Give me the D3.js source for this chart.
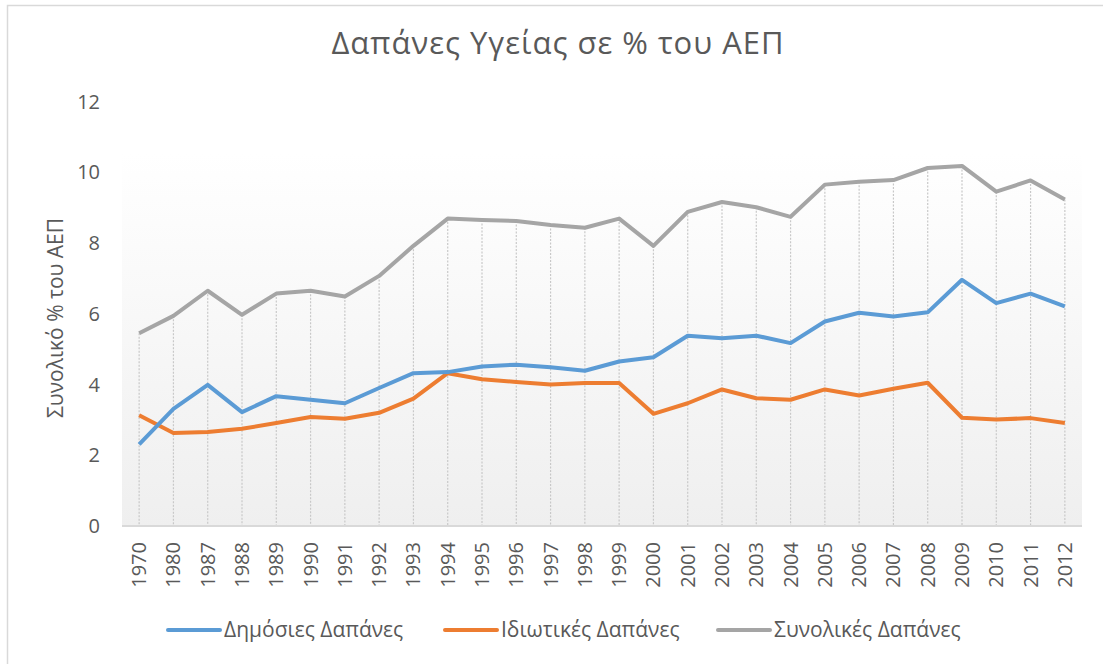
<!DOCTYPE html>
<html>
<head>
<meta charset="utf-8">
<script src="https://cdn.jsdelivr.net/npm/d3@7"></script>
<style>
	body { margin: 0; background: #fff; }
	text { font-family: "Open Sans", sans-serif; fill: #595959; }
</style>
</head>
<body>
<div id="chart"></div>
<script>
(function(){
	var width = 1103,
		height = 664;

	// data
	var years = ["1970","1980","1987","1988","1989","1990","1991","1992","1993","1994","1995","1996","1997","1998","1999","2000","2001","2002","2003","2004","2005","2006","2007","2008","2009","2010","2011","2012"];
	var publicSpend = [2.31,3.31,3.99,3.22,3.67,3.57,3.47,3.90,4.32,4.35,4.51,4.56,4.49,4.39,4.65,4.77,5.38,5.31,5.38,5.17,5.78,6.03,5.92,6.04,6.96,6.30,6.57,6.21];
	var privateSpend = [3.13,2.63,2.66,2.75,2.91,3.08,3.03,3.20,3.60,4.32,4.15,4.07,4.00,4.04,4.04,3.17,3.47,3.86,3.61,3.57,3.86,3.69,3.88,4.05,3.06,3.01,3.05,2.91];
	var totalSpend = [5.45,5.94,6.65,5.97,6.57,6.65,6.49,7.07,7.92,8.69,8.65,8.62,8.51,8.43,8.69,7.92,8.88,9.16,9.01,8.74,9.65,9.73,9.78,10.12,10.18,9.45,9.77,9.23];
	var yTicks = [0,2,4,6,8,10,12];

	var series = [
		{name: "Δημόσιες Δαπάνες", values: publicSpend, color: "#5b9bd5"},
		{name: "Ιδιωτικές Δαπάνες", values: privateSpend, color: "#ed7d31"},
		{name: "Συνολικές Δαπάνες", values: totalSpend, color: "#a5a5a5"}
	];

	var left = 122, right = 1082, top = 101.5, bottom = 526;

	var svg = d3.select("#chart")
		.append("svg")
		.attr("width", width)
		.attr("height", height)

	// chart border
	svg.append("rect")
		.attr("x", 7.5).attr("y", 5.5)
		.attr("width", width + 20).attr("height", height + 20)
		.attr("fill", "none")
		.attr("stroke", "#d9d9d9")
		.attr("stroke-width", 1.5)

	var x = d3.scaleBand().domain(years).range([left, right])
	var y = d3.scaleLinear().domain([0, 12]).range([bottom, top])

	var defs = svg.append("defs")
	var grad = defs.append("linearGradient")
		.attr("id", "bg")
		.attr("x1", 0).attr("y1", 0).attr("x2", 0).attr("y2", 1)
	grad.append("stop").attr("offset", "0%").attr("stop-color", "#ffffff")
	grad.append("stop").attr("offset", "12%").attr("stop-color", "#ffffff")
	grad.append("stop").attr("offset", "100%").attr("stop-color", "#efefef")

	svg.append("rect")
		.attr("x", left).attr("y", y(12))
		.attr("width", right - left).attr("height", bottom - y(12))
		.attr("fill", "url(#bg)")

	function cx(d, i) { return x(years[i]) + x.bandwidth() / 2 }

	// drop lines from the top line down to the axis
	svg.selectAll(".drop")
		.data(totalSpend)
		.enter().append("line")
		.attr("class", "drop")
		.attr("x1", cx).attr("x2", cx)
		.attr("y1", function(d){ return y(d) })
		.attr("y2", bottom)
		.attr("stroke", "#c8c8c8")
		.attr("stroke-width", 1.2)
		.attr("stroke-dasharray", "2,1.5")

	// x axis line
	svg.append("line")
		.attr("x1", left).attr("x2", right)
		.attr("y1", bottom).attr("y2", bottom)
		.attr("stroke", "#d9d9d9")
		.attr("stroke-width", 2)

	// y tick labels
	svg.selectAll(".ytick")
		.data(yTicks)
		.enter().append("text")
		.attr("class", "ytick")
		.attr("x", 100)
		.attr("y", function(d){ return y(d) })
		.attr("dy", "0.35em")
		.attr("text-anchor", "end")
		.style("font-size", "20px")
		.text(function(d){ return d })

	// x tick labels, rotated
	svg.selectAll(".xtick")
		.data(years)
		.enter().append("text")
		.attr("class", "xtick")
		.attr("transform", function(d){
			return "translate(" + (x(d) + x.bandwidth() / 2) + ",542) rotate(-90)"
		})
		.attr("dy", "0.35em")
		.attr("text-anchor", "end")
		.style("font-size", "20px")
		.text(function(d){ return d })

	var line = d3.line()
		.x(function(d, i){ return x(years[i]) + x.bandwidth() / 2 })
		.y(function(d){ return y(d) })

	svg.selectAll(".series")
		.data(series.slice().reverse())
		.enter().append("path")
		.attr("class", "series")
		.attr("d", function(d){ return line(d.values) })
		.attr("fill", "none")
		.attr("stroke", function(d){ return d.color })
		.attr("stroke-width", 4)
		.attr("stroke-linejoin", "round")

	// title
	svg.append("text")
		.attr("x", 558).attr("y", 54)
		.attr("text-anchor", "middle")
		.style("font-size", "31px")
		.style("letter-spacing", "1px")
		.text("Δαπάνες Υγείας σε % του ΑΕΠ")

	// y axis title
	svg.append("text")
		.attr("transform", "translate(56,318) rotate(-90)")
		.attr("dy", "0.35em")
		.attr("text-anchor", "middle")
		.style("font-size", "21px")
		.text("Συνολικό % του ΑΕΠ")

	// legend
	var legendX = [168, 445, 718]
	var legend = svg.selectAll(".legend")
		.data(series)
		.enter().append("g")
		.attr("class", "legend")
		.attr("transform", function(d, i){ return "translate(" + legendX[i] + ",630)" })
	legend.append("line")
		.attr("x1", 0).attr("x2", 52)
		.attr("stroke", function(d){ return d.color })
		.attr("stroke-width", 4)
		.attr("stroke-linecap", "round")
	legend.append("text")
		.attr("x", 56)
		.attr("dy", "0.35em")
		.style("font-size", "21px")
		.text(function(d){ return d.name })
})();
</script>
</body>
</html>
